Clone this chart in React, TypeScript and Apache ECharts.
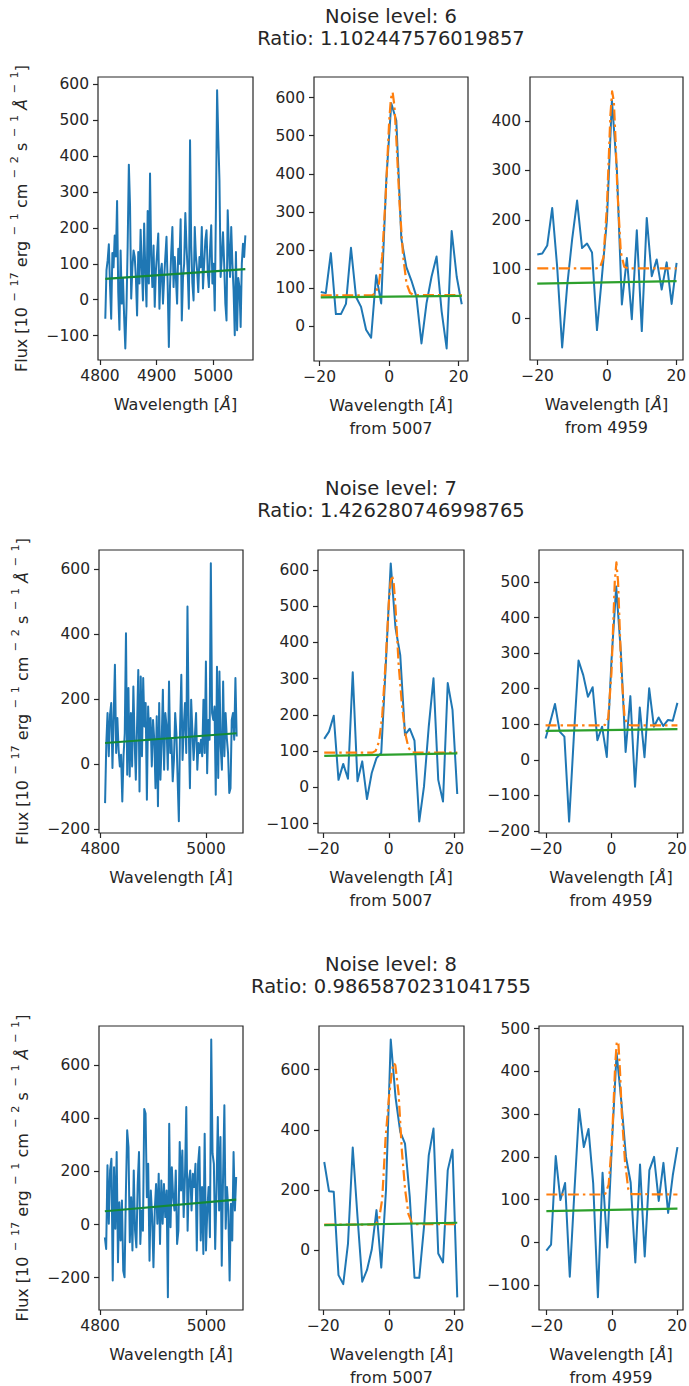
import { useEffect, useRef } from 'react';
import * as echarts from 'echarts';

const FONT = '"DejaVu Sans", sans-serif';
const INK = '#262626';
const BLUE = '#1f77b4';
const ORANGE = '#ff7f0e';
const GREEN = '#2ca02c';
const DARKGREEN = '#138a36';

// ---------- titles ----------
const noiseTitles = ['Noise level: 6', 'Noise level: 7', 'Noise level: 8'];
const ratioTitles = ['Ratio: 1.102447576019857', 'Ratio: 1.426280746998765', 'Ratio: 0.9865870231041755'];

// ---------- wide spectra (flux on a regular wavelength grid) ----------
const wideRange1 = [4809.4, 5056.5];
const wideFlux1 = [-53, 82, 110, 154, 40, -53, 130, 90, 179, 120, 275, 20, -84, 137, -11, 60, -48, -136, -20, 150, 376, 263, 3, 90, 137, 119, 60, -44, 133, 45, 195, 90, -2, 212, 80, -19, 247, 45, 351, 120, 35, 151, -20, 82, 130, 184, -25, 77, 100, -11, 60, 119, 175, 40, -132, 40, 130, 202, 35, 119, 60, -11, 142, 100, 224, -58, 60, 100, 241, 147, 80, -25, 444, 150, 45, -2, 202, 120, 82, 21, 119, 90, 202, 31, 100, 165, 193, 80, 35, 138, 207, 45, 100, -30, 250, 583, 450, 332, 63, 120, 188, 100, -11, -58, 249, 147, 63, 202, 100, 26, -99, 133, -85, 60, 35, -76, 100, 156, 119, 179];
const wideCont1 = [58, 85];

const wideRange2 = [4809, 5058];
const wideFlux2 = [-120, 65, 157, 24, 152, 188, -12, 147, 306, 34, 142, 44, -7, 29, -115, 24, 95, 403, -33, 234, -38, 157, -7, 239, 75, -48, 116, 290, -84, 270, 24, 265, 116, 188, -110, 177, 75, 142, -7, 136, 75, -74, 147, -130, 188, -48, 65, 229, -17, 157, 116, -17, 254, 34, 75, -53, 13, 157, 95, -48, -176, 116, 275, 13, 116, 188, 34, 485, 116, -74, 198, 101, 13, 85, 157, -17, 65, 34, 75, 24, 198, 34, 316, -28, 136, 75, 618, 157, 136, 177, -94, 300, -43, 285, 54, -17, 254, 24, 157, 80, 34, -89, -74, 136, 157, 75, 265, 85];
const wideCont2 = [65, 95];

const wideRange3 = [4809, 5056];
const wideFlux3 = [-48, -92, 223, 3, 204, 248, -211, 216, -16, 273, -142, 84, -60, 91, -174, -199, 116, 355, 292, -67, 103, -98, 204, -23, -86, 153, 273, -73, 53, -23, 435, 418, 103, 229, -136, 128, 28, -161, 53, 153, 3, 191, -73, 166, 3, 153, 28, 128, -274, 380, -10, 216, 103, 53, 204, -73, -23, 311, 128, 279, 28, 179, 443, -23, 166, 204, 53, 191, 141, 229, -98, 229, 292, -60, 141, -111, 342, -98, 53, 141, -48, 697, 267, 229, -92, 128, 405, 53, 330, -155, 179, 449, -16, 141, 53, -211, 78, -60, 273, 53, 179];
const wideCont3 = [50, 94];

// ---------- zoomed windows around the lines ----------
const offsets5007 = [-19.7, -18.25, -16.8, -15.35, -13.9, -12.45, -11.0, -9.55, -8.1, -6.65, -5.2, -3.75, -2.3, -0.85, 0.6, 2.05, 3.5, 4.95, 6.4, 7.85, 9.3, 10.75, 12.2, 13.65, 15.1, 16.55, 18.0, 19.45, 20.9];
const offsets4959 = [-20.1, -18.66, -17.23, -15.79, -14.36, -12.92, -11.48, -10.05, -8.61, -7.18, -5.74, -4.3, -2.87, -1.43, 0.0, 1.44, 2.88, 4.31, 5.75, 7.18, 8.62, 10.06, 11.49, 12.93, 14.36, 15.8, 17.24, 18.67, 20.1];
const fitOffsets5007 = [-19.7, -6, -5, -4, -3, -2, -1, 0, 0.5, 1, 1.5, 2, 3, 4, 5, 6, 7, 8, 20.9];
const fitOffsets4959 = [-20.1, -4, -3, -2, -1, 0, 0.5, 1, 1.5, 2, 2.5, 3, 4, 5, 6, 20.1];

const flux5007_1 = [90, 87, 192, 32, 32, 59, 206, 77, 51, -9, -30, 134, 60, 380, 585, 540, 230, 155, 120, 78, -45, 60, 130, 183, 40, -58, 250, 130, 58];
const fit5007_1 = [81, 81, 81, 86, 108, 184, 345, 537, 598, 614, 579, 502, 320, 185, 112, 88, 82, 82, 82];
const cont5007_1 = [76, 80];
const flux4959_1 = [130, 132, 148, 224, 105, -58, 66, 160, 239, 143, 152, 134, -23, 86, 200, 442, 300, 29, 123, -1, 179, -25, 204, 86, 120, 59, 114, 30, 113];
const fit4959_1 = [102, 102, 102, 104, 124, 227, 320, 412, 460, 439, 360, 262, 135, 105, 102, 102];
const cont4959_1 = [71, 76];

const flux5007_2 = [134, 154, 198, 21, 65, 24, 318, 17, 72, -32, 40, 81, 95, 350, 618, 440, 365, 145, 162, 129, -94, 3, 168, 301, 21, -39, 288, 214, -18];
const fit5007_2 = [96, 96, 96, 101, 126, 198, 340, 507, 564, 585, 564, 507, 340, 230, 150, 110, 97, 96, 96];
const cont5007_2 = [87, 94];
const flux4959_2 = [60, 107, 157, 79, 65, -174, 65, 279, 238, 177, 204, 55, 93, 8, 280, 487, 299, 22, 179, -76, 147, 7, 201, 93, 119, 95, 112, 110, 160];
const fit4959_2 = [97, 97, 97, 98, 117, 246, 375, 501, 555, 501, 375, 246, 117, 98, 97, 97];
const cont4959_2 = [81, 86];

const flux5007_3 = [293, 196, 194, -83, -113, 22, 341, 111, -105, -66, 2, 133, -58, 200, 700, 509, 393, 354, 177, -92, -92, 77, 315, 404, -11, -41, 266, 334, -157];
const fit5007_3 = [85, 85, 85, 87, 100, 170, 370, 500, 550, 600, 622, 615, 520, 330, 200, 120, 92, 86, 86];
const cont5007_3 = [83, 91];
const flux4959_3 = [-19, -5, 202, 99, 139, -80, 122, 312, 223, 265, 138, -128, 163, -12, 231, 443, 330, 200, 140, -47, 182, -33, 169, 200, 97, 186, 69, 157, 223];
const fit4959_3 = [112, 112, 112, 114, 135, 234, 323, 414, 470, 464, 398, 304, 190, 125, 113, 112];
const cont4959_3 = [73, 79];

// ---------- tick values ----------
const xTicksWideA = [4800, 4900, 5000];
const xTicksWideB = [4800, 5000];
const xTicksLine = [-20, 0, 20];

const pairs = (xs: number[], ys: number[]) => ys.map((y, i) => [xs[i], y]);
const onGrid = (range: number[], ys: number[]) =>
  ys.map((y, i) => [range[0] + ((range[1] - range[0]) * i) / (ys.length - 1), y]);
const ends = (xs: number[], c: number[]) => [[xs[0], c[0]], [xs[xs.length - 1], c[1]]];

type Panel = {
  box: number[];
  xr: number[];
  yr: number[];
  xt: number[];
  yt: number[];
  xname: string;
  yname?: string;
  lines: any[];
};

const SUP = (t: string) => `{s|\u2002\u2212\u2002${t}}`;
const FLUX_NAME =
  `{n|Flux [10}${SUP('17')}{n| erg}${SUP('1')}{n| cm}${SUP('2')}{n| s}${SUP('1')}{n| }{i|Å}${SUP('1')}{n|]}`;
const WL = 'Wavelength [{i|Å}]';

const blue = (data: any) => ({ data, color: BLUE, width: 2 });
const fit = (data: any) => ({ data, color: ORANGE, width: 2.2, dash: [11, 4, 2.5, 4] });
const cont = (data: any, color = GREEN) => ({ data, color, width: 2.2 });

const panels: Panel[] = [
  {
    box: [98, 77, 155, 283], xr: [4796.5, 5070], yr: [-168, 620], xt: xTicksWideA,
    yt: [-100, 0, 100, 200, 300, 400, 500, 600], xname: WL, yname: FLUX_NAME,
    lines: [blue(onGrid(wideRange1, wideFlux1)), cont(ends(wideRange1, wideCont1), DARKGREEN)],
  },
  {
    box: [314, 77, 154, 284], xr: [-21.65, 22.7], yr: [-91, 654], xt: xTicksLine,
    yt: [0, 100, 200, 300, 400, 500, 600], xname: WL + '\nfrom 5007',
    lines: [blue(pairs(offsets5007, flux5007_1)), fit(pairs(fitOffsets5007, fit5007_1)), cont(ends(offsets5007, cont5007_1))],
  },
  {
    box: [530, 77, 153, 283], xr: [-22.2, 21.95], yr: [-83.5, 489], xt: xTicksLine,
    yt: [0, 100, 200, 300, 400], xname: WL + '\nfrom 4959',
    lines: [blue(pairs(offsets4959, flux4959_1)), fit(pairs(fitOffsets4959, fit4959_1)), cont(ends(offsets4959, cont4959_1))],
  },
  {
    box: [99, 550, 144, 283], xr: [4797.5, 5070], yr: [-212, 659], xt: xTicksWideB,
    yt: [-200, 0, 200, 400, 600], xname: WL, yname: FLUX_NAME,
    lines: [blue(onGrid(wideRange2, wideFlux2)), cont(ends(wideRange2, wideCont2), DARKGREEN)],
  },
  {
    box: [318, 550, 146, 283], xr: [-21.6, 22.96], yr: [-125.6, 655], xt: xTicksLine,
    yt: [-100, 0, 100, 200, 300, 400, 500, 600], xname: WL + '\nfrom 5007',
    lines: [blue(pairs(offsets5007, flux5007_2)), fit(pairs(fitOffsets5007, fit5007_2)), cont(ends(offsets5007, cont5007_2))],
  },
  {
    box: [539, 550, 144, 283], xr: [-22.1, 21.8], yr: [-206, 590], xt: xTicksLine,
    yt: [-200, -100, 0, 100, 200, 300, 400, 500], xname: WL + '\nfrom 4959',
    lines: [blue(pairs(offsets4959, flux4959_2)), fit(pairs(fitOffsets4959, fit4959_2)), cont(ends(offsets4959, cont4959_2))],
  },
  {
    box: [99, 1026, 144, 284], xr: [4798, 5068.8], yr: [-322, 748], xt: xTicksWideB,
    yt: [-200, 0, 200, 400, 600], xname: WL, yname: FLUX_NAME,
    lines: [blue(onGrid(wideRange3, wideFlux3)), cont(ends(wideRange3, wideCont3), DARKGREEN)],
  },
  {
    box: [319, 1026, 145, 284], xr: [-21.3, 22.96], yr: [-199, 745], xt: xTicksLine,
    yt: [0, 200, 400, 600], xname: WL + '\nfrom 5007',
    lines: [blue(pairs(offsets5007, flux5007_3)), fit(pairs(fitOffsets5007, fit5007_3)), cont(ends(offsets5007, cont5007_3))],
  },
  {
    box: [539, 1026, 144, 284], xr: [-22.36, 21.8], yr: [-158, 506], xt: xTicksLine,
    yt: [-100, 0, 100, 200, 300, 400, 500], xname: WL + '\nfrom 4959',
    lines: [blue(pairs(offsets4959, flux4959_3)), fit(pairs(fitOffsets4959, fit4959_3)), cont(ends(offsets4959, cont4959_3))],
  },
];

const titleCenterY = [27, 499.5, 975.5];
const TITLE_X = 391;

const fmt = (v: number) => String(v).replace('-', '\u2212');

function buildOption() {
  const grid: any[] = [];
  const xAxis: any[] = [];
  const yAxis: any[] = [];
  const series: any[] = [];
  const labelStyle = { color: INK, fontSize: 15.5, fontFamily: FONT };
  panels.forEach((p, k) => {
    grid.push({
      left: p.box[0], top: p.box[1], width: p.box[2], height: p.box[3],
      show: true, borderColor: INK, borderWidth: 1.2, backgroundColor: 'transparent',
      containLabel: false, outerBoundsMode: 'none',
    });
    xAxis.push({
      type: 'value', gridIndex: k, min: p.xr[0], max: p.xr[1],
      axisLine: { show: false, onZero: false },
      splitLine: { show: false },
      axisTick: { show: true, length: 5, lineStyle: { color: INK, width: 1.2 }, customValues: p.xt },
      axisLabel: { ...labelStyle, margin: 8, customValues: p.xt, formatter: fmt },
      name: p.xname, nameLocation: 'middle', nameGap: 33,
      nameTextStyle: {
        color: INK, fontSize: 16, fontFamily: FONT, lineHeight: 23,
        rich: { i: { fontStyle: 'italic', fontSize: 16, fontFamily: FONT, color: INK, lineHeight: 23 } },
      },
    });
    yAxis.push({
      type: 'value', gridIndex: k, min: p.yr[0], max: p.yr[1],
      axisLine: { show: false, onZero: false },
      splitLine: { show: false },
      axisTick: { show: true, length: 5, lineStyle: { color: INK, width: 1.2 }, customValues: p.yt },
      axisLabel: { ...labelStyle, margin: 9, customValues: p.yt, formatter: fmt },
      name: p.yname || '', nameLocation: 'middle', nameGap: 64, nameRotate: 90,
      nameTextStyle: {
        color: INK, fontSize: 16, fontFamily: FONT,
        rich: {
          n: { fontSize: 16, fontFamily: FONT, color: INK, lineHeight: 25 },
          i: { fontSize: 16, fontFamily: FONT, color: INK, lineHeight: 25, fontStyle: 'italic' },
          s: { fontSize: 11.2, fontFamily: FONT, color: INK, lineHeight: 12, verticalAlign: 'top' },
        },
      },
    });
    p.lines.forEach((l) => {
      series.push({
        type: 'line', xAxisIndex: k, yAxisIndex: k, data: l.data,
        showSymbol: false, symbol: 'none', silent: true, animation: false,
        lineStyle: { color: l.color, width: l.width, type: l.dash || 'solid', cap: 'butt', join: 'round' },
        itemStyle: { color: l.color },
        emphasis: { disabled: true },
        z: 2,
      });
    });
  });

  const graphic: any[] = noiseTitles.map((t, r) => ({
    type: 'text', x: TITLE_X, y: titleCenterY[r], silent: true,
    style: {
      text: `${t}\n${ratioTitles[r]}`, fill: INK, fontSize: 19.5, fontFamily: FONT,
      lineHeight: 22, align: 'center', verticalAlign: 'middle',
    },
  }));

  return {
    animation: false,
    backgroundColor: '#ffffff',
    textStyle: { fontFamily: FONT },
    grid, xAxis, yAxis, series, graphic,
  };
}

export default function App() {
  const ref = useRef<HTMLDivElement>(null);
  useEffect(() => {
    if (!ref.current) return;
    const chart = echarts.init(ref.current, undefined, { renderer: 'svg', width: 689, height: 1386 });
    chart.setOption(buildOption() as any);
    return () => chart.dispose();
  }, []);
  return (
    <div
      ref={ref}
      style={{ position: 'absolute', left: 0, top: 0, width: 689, height: 1386, background: '#fff' }}
    />
  );
}
